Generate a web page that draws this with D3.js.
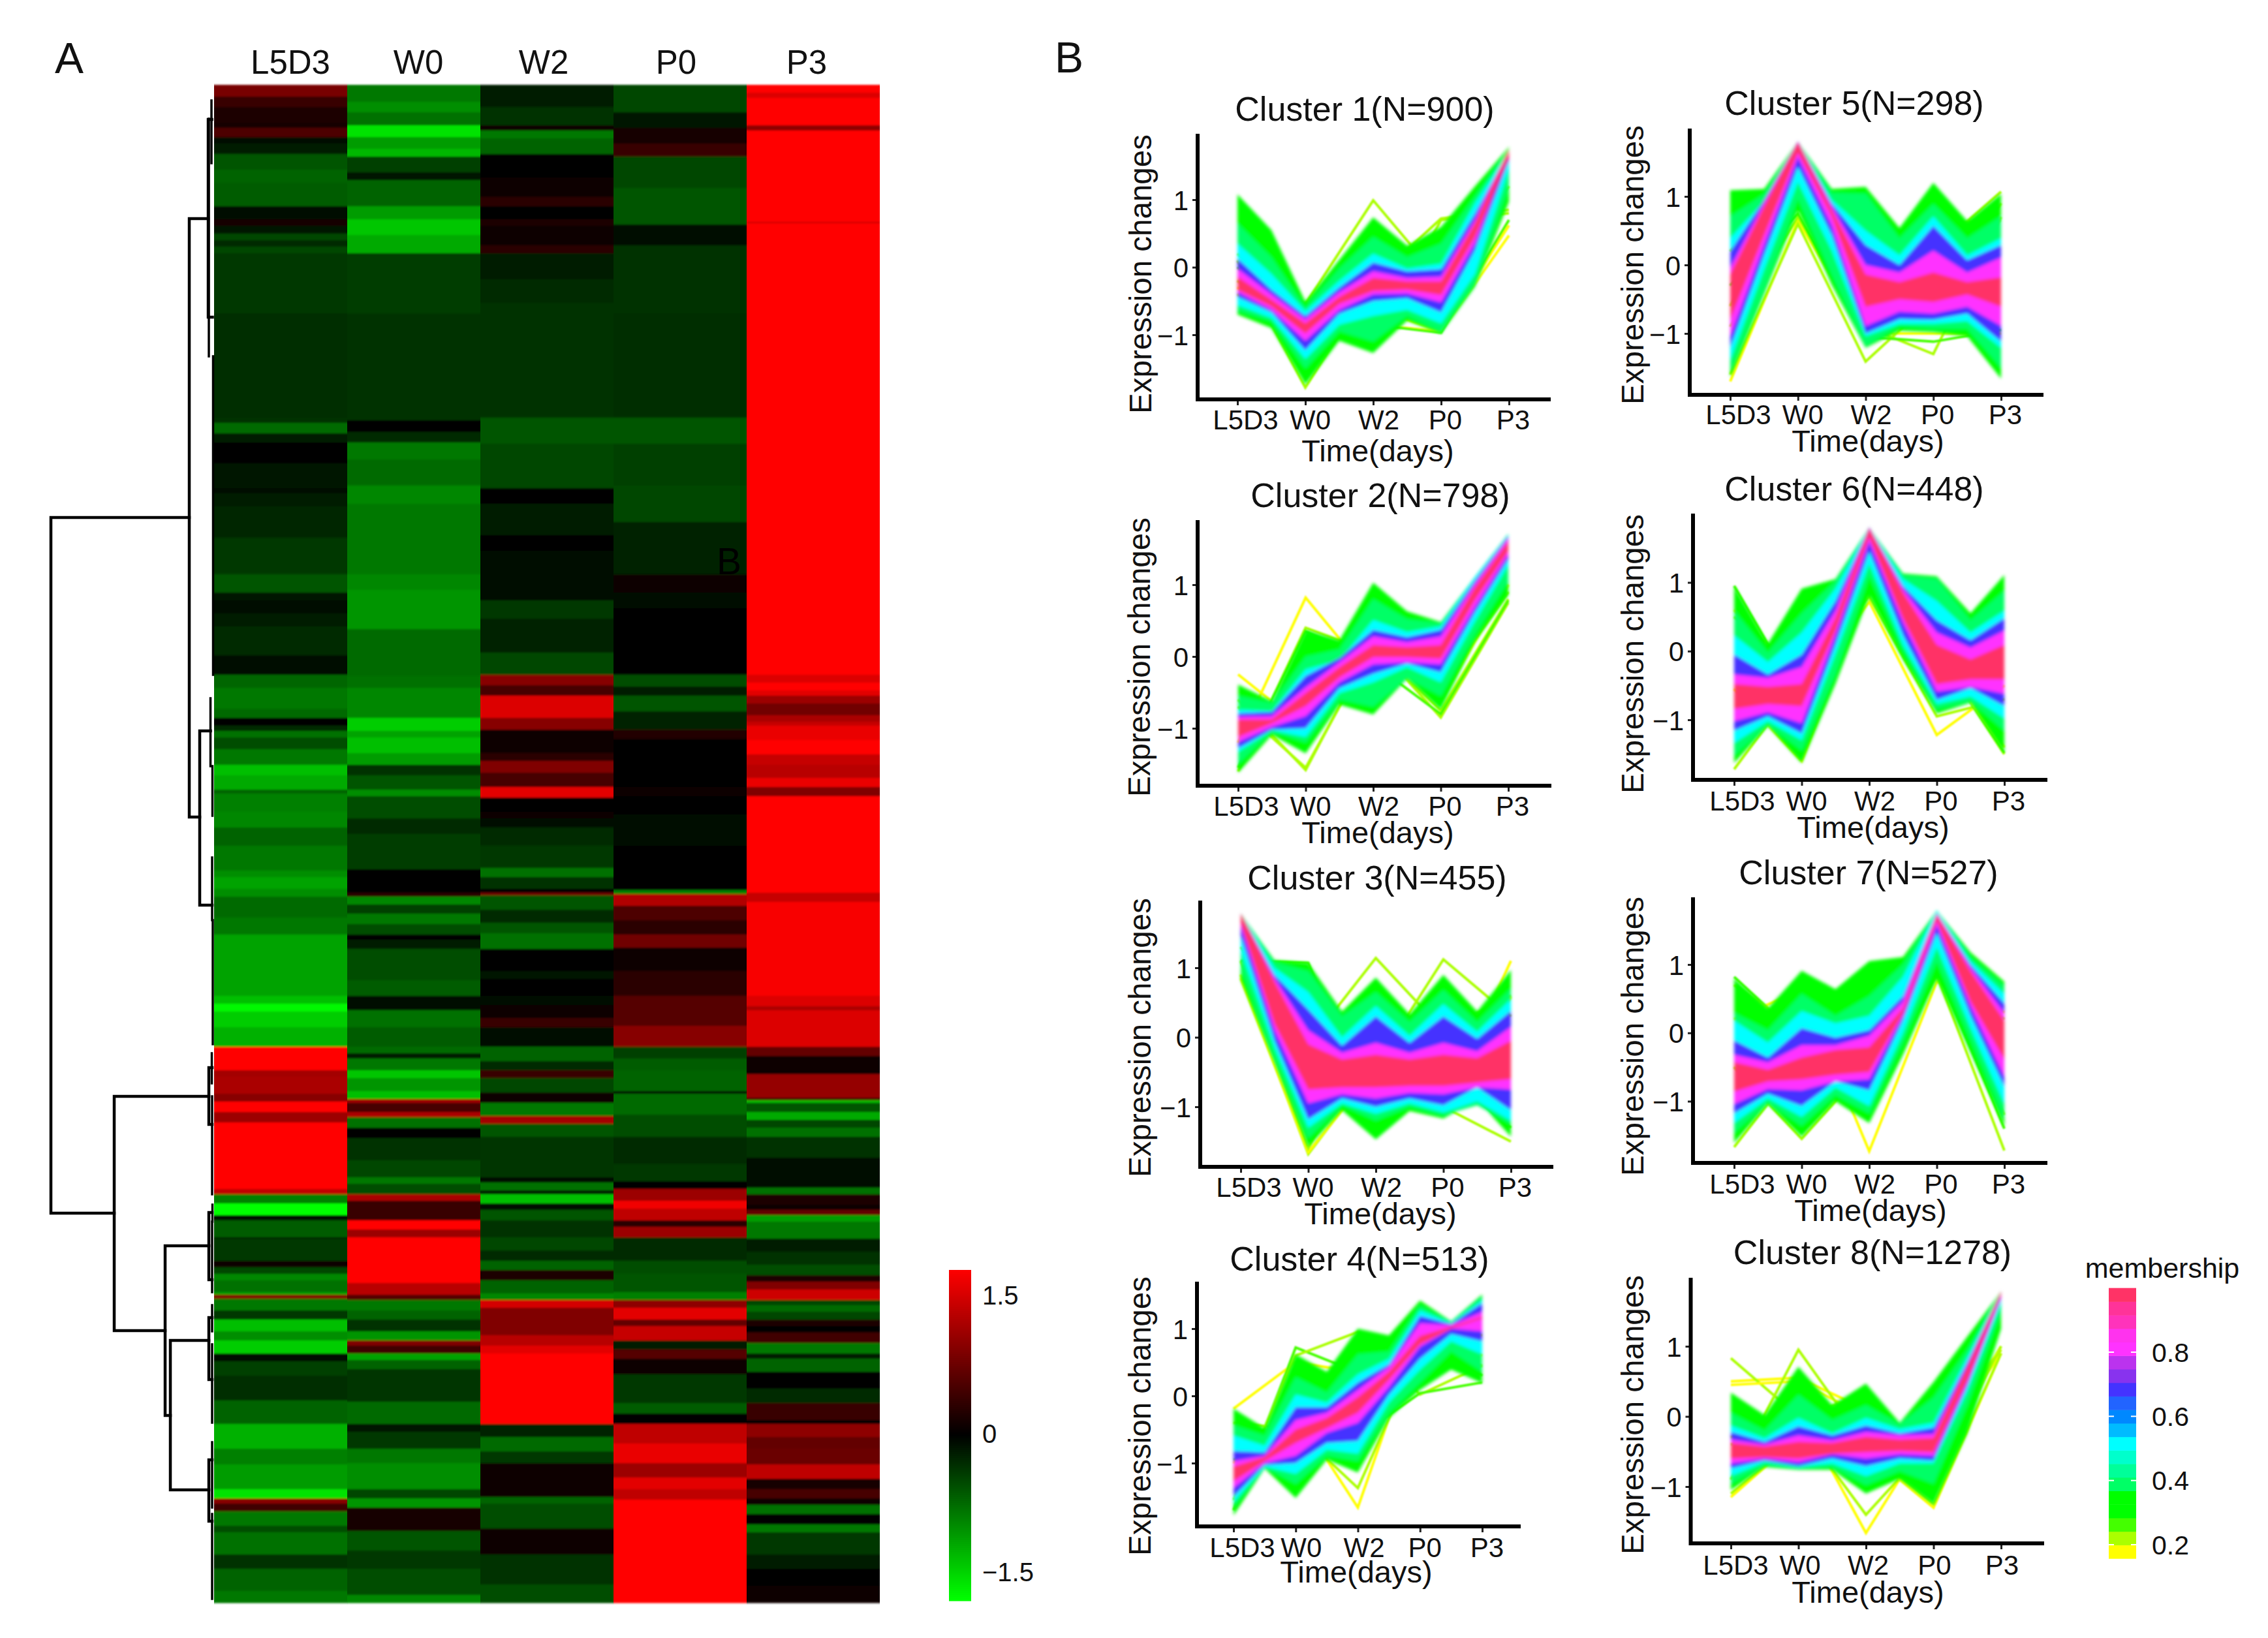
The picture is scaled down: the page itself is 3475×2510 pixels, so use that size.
<!DOCTYPE html>
<html>
<head>
<meta charset="utf-8">
<title>Heatmap and clusters</title>
<script src="https://cdn.jsdelivr.net/npm/d3@7"></script>
<style>
  html, body { margin: 0; padding: 0; background: #fff; }
  svg { display: block; }
  text { font-family: "Liberation Sans", Arial, sans-serif; fill: #111; }
</style>
</head>
<body>
<svg id="chart" width="3475" height="2510"></svg>
<script>
// heatmap: each column is a list of [last row of the stripe, value]
const heatColumns = ['L5D3', 'W0', 'W2', 'P0', 'P3'];
const rowCount = 1163;

const heatL5D3 = [[9,.85],[17,.4],[29,.2],[33,.15],[40,.55],[45,-.05],[53,-.2],[65,-.6],[75,-.7],[93,-.65],[103,-.1],[108,.15],[114,-.15],[119,-.5],[124,-.3],[129,-.5],[175,-.4],[255,-.32],[259,-.35],[267,-.75],[274,-.2],[290,-.03],[309,-.15],[313,-.05],[323,-.2],[347,-.28],[375,-.4],[389,-.6],[395,-.15],[405,-.05],[415,-.2],[437,-.3],[452,-.12],[462,-.72],[478,-.85],[485,-.75],[491,-.02],[495,-.3],[500,-.8],[509,-.55],[521,-.85],[529,-1.35],[540,-1.2],[543,-.7],[557,-.9],[569,-.95],[583,-.7],[602,-.85],[607,-1],[616,-1.15],[622,-1],[638,-.75],[651,-.85],[674,-1.15],[698,-1.15],[704,-1.35],[710,-1.75],[722,-1.45],[737,-1.25],[755,1.8],[760,1.15],[773,1.2],[779,.95],[787,1.8],[795,1.1],[846,1.8],[850,1.35],[857,-.9],[866,-1.8],[870,-.05],[883,-.65],[884,-.1],[901,-.4],[906,.05],[911,-.5],[916,-.95],[925,-.8],[927,-1.1],[930,.9],[939,-.85],[946,-.4],[955,-1.35],[962,-1],[972,-1.45],[978,-.05],[989,-.45],[1008,-.32],[1026,-.7],[1045,-1.25],[1057,-.9],[1076,-1.1],[1083,-1.6],[1087,.95],[1093,.45],[1104,-.85],[1109,-.55],[1126,-.8],[1137,-.35],[1154,-.7],[1163,-.85]];

const heatW0 = [[13,-.85],[21,-1],[31,-.8],[40,-1.6],[49,-1.1],[55,-1.3],[67,-.45],[73,-.15],[93,-.7],[103,-1.1],[115,-1.4],[129,-1.2],[175,-.42],[257,-.35],[266,.02],[274,-.3],[287,-.85],[307,-.75],[321,-.95],[375,-.85],[387,-.95],[417,-1.05],[453,-.75],[462,-.8],[485,-.95],[495,-1.45],[500,-1.15],[512,-1.35],[521,-1.1],[529,-.35],[540,-.6],[545,-1],[562,-.55],[574,-.3],[601,-.42],[619,.03],[622,.3],[628,-.95],[635,-.45],[643,-.85],[651,-.55],[655,0],[662,-.2],[686,-.55],[698,-.65],[709,-.05],[722,-.8],[737,-.65],[742,-.75],[746,-.2],[755,-.85],[761,-1.4],[771,-1.05],[777,-1.35],[780,1.1],[787,.5],[791,1.2],[799,-.8],[807,-.02],[824,-.35],[837,-.5],[842,-.85],[850,-.55],[855,1.2],[870,.4],[877,1.8],[883,1.1],[918,1.8],[927,1.3],[931,.6],[939,-.85],[946,-.7],[955,-.35],[962,-1.05],[966,.9],[972,.45],[977,-1.15],[984,-.7],[1009,-.38],[1026,-.75],[1032,-.15],[1045,-.4],[1056,-.85],[1076,-1],[1083,-.5],[1090,-1.05],[1108,.15],[1123,-.6],[1137,-.4],[1157,-.55],[1163,-.95]];

const heatW2 = [[17,-.2],[31,-.35],[35,.1],[41,-.85],[53,-.7],[71,-.03],[86,.1],[93,.3],[103,.02],[108,.2],[123,.05],[129,.3],[149,-.2],[167,-.3],[255,-.35],[275,-.6],[309,-.5],[321,-.02],[345,-.2],[357,0],[375,-.1],[395,-.05],[409,-.4],[435,-.25],[452,-.5],[460,.95],[468,.5],[485,1.55],[494,.95],[504,.1],[512,.1],[518,.3],[527,.9],[538,.5],[546,1.6],[557,0],[562,.05],[569,-.1],[583,-.3],[600,-.4],[607,-.8],[616,-.35],[619,-.02],[621,.8],[632,-.6],[642,-.3],[650,-.6],[662,-.8],[679,.03],[685,-.15],[698,-.03],[705,-.1],[715,.1],[722,.4],[737,-.08],[748,-.7],[755,-.3],[761,.4],[772,-.5],[780,.1],[790,-.85],[796,1.15],[806,-.6],[837,-.38],[841,-.1],[847,-.8],[850,-.2],[857,-1.35],[862,-.1],[870,-.6],[883,-.35],[893,-.5],[901,-.3],[908,-.7],[916,.2],[926,-.7],[931,-.95],[937,1.5],[946,.9],[958,.9],[966,1.3],[972,1.6],[1026,1.8],[1036,-.25],[1047,-.75],[1056,-.4],[1082,.08],[1087,-.7],[1106,-.55],[1126,.05],[1149,-.35],[1163,-.55]];

const heatP0 = [[21,-.5],[33,-.15],[45,.15],[55,.4],[79,-.5],[107,-.6],[123,-.1],[175,-.35],[255,-.32],[275,-.6],[307,-.45],[335,-.5],[375,-.25],[389,.1],[401,-.12],[452,-.04],[461,-.55],[468,-.2],[480,-.6],[494,-.25],[501,.25],[516,0],[529,.03],[538,.02],[545,.1],[559,0],[583,-.12],[602,.02],[617,-.02],[620,-.9],[629,1.25],[640,.55],[651,.3],[661,.8],[679,.1],[698,.3],[721,.6],[737,.95],[746,-.45],[755,-.65],[771,-.7],[773,-.02],[789,-.75],[806,-.55],[827,-.3],[840,-.4],[846,.02],[855,1.1],[861,1.7],[870,1.35],[875,.3],[883,1.1],[901,-.3],[911,-.55],[918,-.6],[925,-.6],[931,-.9],[937,1],[946,1.6],[951,.7],[962,1.4],[969,-.2],[976,.6],[988,.1],[1010,-.4],[1018,-.65],[1026,-.03],[1041,1.35],[1056,1.65],[1067,1.1],[1076,1.6],[1084,1.35],[1163,1.8]];

const heatP3 = [[6,1.8],[10,1.55],[31,1.8],[35,1],[105,1.8],[106,1.4],[452,1.8],[458,1.55],[464,1.8],[468,1.6],[474,1.1],[483,.8],[488,1.2],[491,1.4],[502,1.65],[513,1.8],[521,1.4],[531,1.3],[538,1.65],[545,.9],[619,1.8],[626,1.4],[698,1.75],[706,1.55],[709,1.2],[737,1.55],[744,.7],[758,.05],[776,1.05],[778,.5],[780,-1.3],[787,-.6],[793,-1.2],[799,-.5],[806,-.8],[822,-.35],[835,-.05],[845,-.1],[850,-.8],[858,.2],[862,.05],[866,.7],[871,-1.1],[884,-.85],[894,-.2],[904,-.35],[912,-.55],[917,.2],[923,.9],[931,1.45],[935,-.5],[940,-.75],[946,-.5],[951,.2],[956,-.02],[964,.45],[972,-.85],[976,-.2],[986,-.7],[999,-.03],[1010,-.3],[1023,.4],[1026,.02],[1036,1],[1045,.7],[1057,.75],[1068,1.35],[1076,.15],[1083,.5],[1088,.1],[1095,-.8],[1103,-.02],[1109,-.85],[1126,-.4],[1137,-.2],[1150,0],[1163,.12]];

const heatData = [heatL5D3, heatW0, heatW2, heatP0, heatP3];

// dendrogram: [height, top row, height of top child, bottom row, height of bottom child]
const dendroMerges = [
  [1, 331.5, .152, 864.5, .612],
  [.152, 102.5, .036, 561, .088],
  [.036, 26.5, .014, 178, .01],
  [.088, 495, .022, 628.5, .012],
  [.612, 775, .032, 954.5, .3],
  [.032, 753, .012, 796.5, .012],
  [.3, 889.5, .032, 1019.5, .268],
  [.032, 864, .012, 915.5, .012],
  [.268, 962, .032, 1076.5, .032],
  [.032, 944.5, .012, 992, .012],
  [.032, 1053.5, .012, 1100.5, .012]
];
// small leaf groups next to the heatmap: [height, top row, bottom row]
const dendroLeaves = [
  [.032, 26, 208], [.016, 12, 60], [.006, 208, 452], [.022, 470, 522], [.01, 522, 560],
  [.012, 592, 640], [.008, 640, 735], [.014, 742, 765], [.012, 775, 850], [.01, 858, 871],
  [.012, 871, 925], [.012, 935, 955], [.012, 965, 1025], [.012, 1040, 1090], [.012, 1095, 1160]
];

const heatTicks = [-1.5, 0, 1.5];

// clusters
const timeLabels = ['L5D3', 'W0', 'W2', 'P0', 'P3'];
// envelopes are read at each time point and half way to the next one
const envelopeSteps = [0, .5, 1, 1.5, 2, 2.5, 3, 3.5, 4];
const clusterNumbers = [1, 2, 3, 4, 5, 6, 7, 8];
const clusterSizes = [900, 798, 455, 513, 298, 448, 527, 1278];

// [membership, upper edge, lower edge]
const cluster1Bands = [
  [.3, [1.08,.55,-.51,.11,.74,.32,.6,1.2,1.78], [-.7,-.9,-1.74,-1.09,-1.27,-.79,-.98,-.29,.97]],
  [.38, [.65,.15,-.6,-.02,.45,.15,.35,1.05,1.75], [-.64,-.8,-1.5,-.95,-1.1,-.72,-.95,-.25,1.2]],
  [.5, [.35,-.1,-.65,-.2,.2,-.02,.05,.95,1.72], [-.56,-.75,-1.36,-.85,-.72,-.63,-.83,-.1,1.45]],
  [.68, [.13,-.33,-.72,-.3,.07,-.06,-.03,.8,1.72], [-.44,-.67,-1.23,-.69,-.5,-.46,-.67,.25,1.58]],
  [.82, [-.02,-.4,-.77,-.37,-.06,-.16,-.14,.7,1.75], [-.37,-.63,-1.09,-.63,-.4,-.39,-.52,.36,1.68]],
  [.96, [-.14,-.48,-.83,-.44,-.16,-.21,-.21,.65,1.74], [-.33,-.58,-.98,-.54,-.35,-.33,-.41,.45,1.62]]
];
const cluster2Bands = [
  [.3, [-.39,-.62,.37,.23,1.03,.63,.48,1.1,1.71], [-1.62,-1.09,-1.35,-.67,-.81,-.31,-.74,.2,.86]],
  [.38, [-.55,-.65,0,.1,.8,.52,.46,1.1,1.7], [-1.5,-1.04,-1.2,-.6,-.7,-.3,-.55,.3,1.05]],
  [.5, [-.74,-.76,-.18,-.05,.51,.34,.42,1.1,1.7], [-1.33,-1.03,-1.12,-.51,-.36,-.15,-.36,.48,1.27]],
  [.68, [-.79,-.77,-.27,-.02,.37,.27,.37,1.05,1.68], [-1.28,-1.02,-1,-.44,-.24,-.1,-.22,.6,1.35]],
  [.82, [-.84,-.83,-.43,-.08,.28,.2,.28,1,1.65], [-1.19,-.98,-.83,-.36,-.11,-.08,-.11,.68,1.42]],
  [.96, [-.88,-.88,-.51,-.15,.16,.13,.16,.95,1.6], [-1.12,-.93,-.69,-.29,-.01,-.01,-.03,.78,1.47]]
];
const cluster3Bands = [
  [.3, [1.78,1.11,1.07,.37,.86,.33,.9,.37,.97], [.83,-.37,-1.58,-1.05,-1.47,-1.06,-1.17,-.9,-1.43]],
  [.38, [1.78,1.08,.95,.3,.65,.22,.68,.22,.7], [1,-.3,-1.45,-.98,-1.2,-1,-1.12,-.98,-1.25]],
  [.5, [1.78,1,.65,0,.45,.02,.48,.08,.55], [1.25,-.15,-1.3,-.95,-1.1,-.95,-1.08,-.92,-1.2]],
  [.68, [1.78,.9,.4,-.12,.3,-.08,.3,-.02,.38], [1.45,-.05,-1.18,-.88,-1,-.88,-.98,-.72,-1.05]],
  [.82, [1.78,.85,.1,-.22,-.08,-.22,-.08,-.2,.15], [1.6,.1,-.95,-.82,-.88,-.8,-.82,-.72,-.75]],
  [.96, [1.78,.8,-.1,-.32,-.25,-.32,-.25,-.3,-.05], [1.65,.2,-.75,-.72,-.72,-.7,-.7,-.65,-.6]]
];
const cluster4Bands = [
  [.3, [-.19,-.48,.62,.36,1,.9,1.42,1.11,1.51], [-1.78,-1.08,-1.52,-.95,-1.14,-.33,.09,.39,.19]],
  [.38, [-.44,-.59,.28,.05,.62,.66,1.34,1.1,1.48], [-1.65,-1.06,-1.31,-.89,-.97,-.25,.2,.66,.36]],
  [.5, [-.59,-.74,.02,-.1,.32,.55,1.27,1.08,1.42], [-1.58,-1.05,-1.16,-.8,-.86,-.1,.39,.81,.62]],
  [.68, [-.82,-.84,-.17,-.17,.2,.47,1.19,1.07,1.38], [-1.5,-1.03,-1,-.7,-.67,.02,.55,.92,.81]],
  [.82, [-.97,-.89,-.36,-.25,.09,.43,1.08,1.05,1.25], [-1.37,-1,-.89,-.55,-.4,.13,.73,1,.96]],
  [.96, [-1.05,-.91,-.5,-.33,-.02,.36,.89,1.03,1.18], [-1.27,-.97,-.7,-.48,-.25,.24,.77,1,1.15]]
];
const cluster5Bands = [
  [.3, [1.09,1.11,1.8,1.11,1.14,.54,1.2,.64,1.04], [-1.64,-.43,.79,-.29,-1.21,-.96,-.98,-1.04,-1.66]],
  [.38, [.71,1.03,1.8,1.05,1.04,.39,.89,.39,.71], [-1.54,-.36,.96,-.14,-1.18,-.89,-.93,-.93,-1.5]],
  [.5, [.39,.93,1.8,.95,.5,.14,.71,.14,.39], [-1.39,-.07,1.21,.21,-1.04,-.86,-.86,-.82,-1.21]],
  [.68, [.2,.95,1.8,.9,.29,0,.57,.07,.29], [-1.21,.14,1.43,.43,-1,-.79,-.8,-.71,-1.12]],
  [.82, [-.04,.9,1.8,.85,0,-.11,.21,-.11,.11], [-1.04,.29,1.57,.57,-.89,-.68,-.71,-.61,-.89]],
  [.96, [-.14,.85,1.78,.8,-.14,-.25,-.11,-.25,-.18], [-.8,.43,1.64,.71,-.61,-.5,-.54,-.43,-.61]]
];
const cluster6Bands = [
  [.3, [.95,.11,.91,1.05,1.8,1.13,1.09,.55,1.11], [-1.63,-1.09,-1.63,-.48,.8,-.12,-.91,-.75,-1.48]],
  [.38, [.59,-.02,.55,1.02,1.8,1.1,1.05,.45,.88], [-1.52,-1.07,-1.45,-.34,1.09,.02,-.84,-.73,-1.16]],
  [.5, [.23,-.16,.27,.91,1.8,1.05,.73,.27,.59], [-1.34,-1.02,-1.3,-.05,1.27,.09,-.77,-.66,-.98]],
  [.68, [-.05,-.34,-.05,.73,1.8,.95,.45,.16,.48], [-1.16,-.95,-1.2,.09,1.45,.23,-.71,-.54,-.8]],
  [.82, [-.34,-.39,-.23,.59,1.8,.9,.27,.05,.3], [-1.02,-.89,-1.05,.23,1.59,.41,-.59,-.52,-.62]],
  [.96, [-.48,-.52,-.48,.48,1.78,.85,.09,-.12,.09], [-.84,-.77,-.8,.3,1.66,.48,-.48,-.41,-.41]]
];
const cluster7Bands = [
  [.3, [.8,.36,.91,.64,1.05,1.11,1.79,1.18,.75], [-1.61,-1.04,-1.52,-1,-1.32,-.32,.79,-.29,-1.38]],
  [.38, [.29,.04,.57,.25,.54,1,1.79,1.1,.68], [-1.46,-1.02,-1.36,-.91,-1.18,-.14,1.04,-.11,-1.25]],
  [.5, [.18,-.14,.32,.14,.25,.82,1.79,1.05,.57], [-1.32,-.96,-1.23,-.8,-1.07,0,1.25,.07,-1.04]],
  [.68, [-.11,-.36,.07,-.07,.04,.54,1.75,1,.43], [-1.18,-.89,-1.07,-.71,-.84,.18,1.46,.25,-.79]],
  [.82, [-.32,-.43,-.18,-.18,-.04,.46,1.75,.95,.29], [-1.04,-.82,-.84,-.71,-.68,.25,1.57,.39,-.64]],
  [.96, [-.43,-.54,-.36,-.25,-.21,.36,1.72,.9,.18], [-.86,-.71,-.68,-.61,-.57,.29,1.64,.46,-.39]]
];
const cluster8Bands = [
  [.3, [.34,.02,.71,.16,.47,-.09,.49,1.14,1.78], [-1.05,-.72,-.76,-.76,-1.1,-.89,-1.25,-.24,1.25]],
  [.38, [.05,-.2,.31,-.05,.16,-.11,.27,.95,1.78], [-.96,-.69,-.74,-.72,-.98,-.78,-.96,.16,1.5]],
  [.5, [-.13,-.31,-.02,-.24,-.02,-.18,-.09,.85,1.78], [-.85,-.65,-.72,-.67,-.85,-.67,-.67,.35,1.61]],
  [.68, [-.22,-.36,-.14,-.27,-.13,-.24,-.16,.78,1.78], [-.74,-.63,-.71,-.6,-.71,-.6,-.63,.42,1.67]],
  [.82, [-.33,-.4,-.27,-.34,-.22,-.27,-.25,.72,1.78], [-.67,-.6,-.65,-.54,-.6,-.54,-.56,.48,1.7]],
  [.96, [-.38,-.43,-.36,-.38,-.29,-.33,-.31,.7,1.78], [-.6,-.58,-.6,-.53,-.51,-.49,-.51,.52,1.74]]
];

// single low membership lines outside the bands: [membership, five values]
const cluster1Lines = [[.21,[.2,-.55,.99,-.2,1.2]],[.17,[-.3,-1,-.6,-.95,.47]],[.17,[-.4,-1.1,-.85,-.95,.62]],[.21,[.1,-1.78,-.2,.72,.85]],[.21,[-.2,-.9,-1.15,.7,.8]],[.25,[0,-.9,-.85,-.97,.7]]];
const cluster2Lines = [[.17,[-1.2,.82,-.32,-.2,1]],[.17,[-.25,-1,.1,-.6,1]],[.21,[-.6,-1.58,.2,-.85,.75]],[.21,[-.7,-1.55,.15,-.75,.8]],[.21,[-1.6,.4,.05,-.45,.9]],[.25,[-1.55,.35,-.1,-.8,.78]]];
const cluster3Lines = [[.21,[1.3,-.1,1.14,.1,.6]],[.21,[.9,-1.68,-.4,1.12,.3]],[.17,[.85,-1.65,-.45,-1,1.1]],[.21,[1.1,-1.6,.4,-1,-1.5]],[.17,[.9,-1.05,-1,-1.02,.58]],[.25,[1.1,1.07,-1.35,-.5,-1.3]]];
const cluster4Lines = [[.17,[-.19,.5,.35,1,.9]],[.17,[-1,-.24,-1.66,1,.6]],[.25,[-1.7,.72,.35,1,.3]],[.21,[-1.55,.6,.95,.02,.45]],[.21,[-.4,-.5,-1.37,.7,.45]],[.25,[-.95,-.8,-.6,.04,.2]]];
const cluster5Lines = [[.17,[-1.7,.65,-1,-1,-1]],[.21,[-1.6,.6,-1.41,-.5,.9]],[.21,[-.9,.7,-.9,-1.3,.7]],[.27,[-.3,.75,-1.05,-1.12,-.95]],[.21,[.2,1.3,.3,.2,1.07]],[.21,[-.6,1.2,-.8,.6,.65]]];
const cluster6Lines = [[.17,[.6,-.6,.72,-1.22,-.5]],[.21,[-1.72,-.4,.8,-.95,-.7]],[.21,[.5,-.3,.9,0,-1.5]],[.25,[.95,-.75,1,0,-1.48]],[.17,[-.55,-1.6,.95,-.05,-1.4]]];
const cluster7Lines = [[.17,[.2,.63,-1.73,.75,.3]],[.21,[-1.67,-.4,-.95,.85,-1.72]],[.25,[.82,-.1,.6,1,-1.4]],[.21,[-.5,-1.55,-.45,.95,-1.2]],[.21,[.7,0,.65,1,.2]]];
const cluster8Lines = [[.17,[.5,.55,.1,-.5,.9]],[.21,[.83,0,.3,-.6,1]],[.17,[.45,.5,0,-.4,.95]],[.21,[-.9,.95,-.4,-.9,1]],[.17,[-.3,.1,-1.66,-.12,.95]],[.21,[-.4,-.1,-1.4,-.35,.95]],[.17,[-1.15,-.3,-.5,-1.3,.9]],[.21,[-1.1,-.3,-.45,-1.25,.9]]];

const clusterBands = [cluster1Bands, cluster2Bands, cluster3Bands, cluster4Bands, cluster5Bands, cluster6Bands, cluster7Bands, cluster8Bands];
const clusterLines = [cluster1Lines, cluster2Lines, cluster3Lines, cluster4Lines, cluster5Lines, cluster6Lines, cluster7Lines, cluster8Lines];

// membership legend
const membershipTicks = [.2, .4, .6, .8];
const membershipColors = ['#ffff00','#aaff00','#44ff00','#00ff00','#00ff00','#00ff66','#00ff99','#00ffcc','#00ffff','#00bbff','#0088ff','#2264ff','#4433ff','#8833ee','#bb33ee','#ff33ff','#ff33ee','#ff33bb','#ff3399','#ff3366'];

// panel geometry
const panels = [
  {axisX:1835, baseY:612, topY:205, rightX:2376, t0:1896, t4:2312, y1:306, ym1:513, titleX:2091, titleY:185, tickY:658, timeX:2111, timeY:707, labX:1764, labY:420, shift:0},
  {axisX:1835, baseY:1204, topY:797, rightX:2377, t0:1897, t4:2311, y1:896, ym1:1116, titleX:2115, titleY:777, tickY:1250, timeX:2111, timeY:1292, labX:1762, labY:1007, shift:0},
  {axisX:1839, baseY:1788, topY:1380, rightX:2380, t0:1901, t4:2315, y1:1483, ym1:1696, titleX:2110, titleY:1363, tickY:1834, timeX:2115, timeY:1876, labX:1763, labY:1590, shift:0},
  {axisX:1834, baseY:2339, topY:1964, rightX:2330, t0:1890, t4:2271, y1:2036, ym1:2242, titleX:2083, titleY:1947, tickY:2386, timeX:2078, timeY:2425, labX:1763, labY:2170, shift:1},
  {axisX:2589, baseY:605, topY:197, rightX:3131, t0:2651, t4:3066, y1:301, ym1:511, titleX:2841, titleY:176, tickY:650, timeX:2862, timeY:692, labX:2518, labY:406, shift:0},
  {axisX:2594, baseY:1195, topY:787, rightX:3137, t0:2657, t4:3071, y1:892.5, ym1:1103, titleX:2841, titleY:767, tickY:1242, timeX:2870, timeY:1284, labX:2518, labY:1002, shift:0},
  {axisX:2594, baseY:1782, topY:1375, rightX:3137, t0:2657, t4:3071, y1:1478, ym1:1687.5, titleX:2863, titleY:1355, tickY:1829, timeX:2866, timeY:1871, labX:2518, labY:1588, shift:0},
  {axisX:2590.5, baseY:2365, topY:1958, rightX:3132, t0:2652, t4:3066, y1:2063, ym1:2278, titleX:2869, titleY:1937, tickY:2413, timeX:2862, timeY:2456, labX:2518, labY:2168, shift:-5}
];
const tickLabelOffsets = [12, 7, 8, 6, 6];

const svg = d3.select('#chart');
const defs = svg.append('defs');
defs.append('filter').attr('id', 'soft').attr('x', '-10%').attr('y', '-10%').attr('width', '120%').attr('height', '120%')
  .append('feGaussianBlur').attr('stdDeviation', 2.5);
defs.append('filter').attr('id', 'softLine').attr('x', '-10%').attr('y', '-10%').attr('width', '120%').attr('height', '120%')
  .append('feGaussianBlur').attr('stdDeviation', 1);
defs.append('filter').attr('id', 'stripes').attr('x', '0').attr('y', '-1%').attr('width', '100%').attr('height', '102%')
  .append('feGaussianBlur').attr('stdDeviation', '0 1.5');

// panel letters
svg.append('text').attr('x', 106).attr('y', 112).attr('text-anchor', 'middle').attr('font-size', 66).text('A');
svg.append('text').attr('x', 1638).attr('y', 111).attr('text-anchor', 'middle').attr('font-size', 66).text('B');

// heatmap
const heatX = d3.scaleBand().domain(heatColumns).range([328, 1348]);
const heatY = d3.scaleLinear().domain([0, rowCount]).range([130, 2456]);
const heatColor = d3.scaleLinear().domain([-1.8, 0, 1.8]).range(['#00ff00', '#000000', '#ff0000']).clamp(true);

const heat = svg.append('g').attr('filter', 'url(#stripes)');
heatColumns.forEach((name, c) => {
  let start = 0;
  heatData[c].forEach(([end, value]) => {
    heat.append('rect')
      .attr('x', heatX(name))
      .attr('y', heatY(start))
      .attr('width', heatX.bandwidth() + (c < 4 ? .5 : 0))
      .attr('height', heatY(end) - heatY(start) + .5)
      .attr('fill', heatColor(value));
    start = end;
  });
});

const columnLabelX = [445, 641, 833, 1036, 1236];
heatColumns.forEach((name, c) => {
  svg.append('text').attr('x', columnLabelX[c]).attr('y', 113).attr('text-anchor', 'middle')
    .attr('font-size', 51).text(name);
});

// the stray letter over the heatmap
svg.append('text').attr('x', 1117).attr('y', 880).attr('text-anchor', 'middle').attr('font-size', 57)
  .style('fill', '#000').text('B');

// dendrogram
const dendroX = d3.scaleLinear().domain([0, 1]).range([328, 78]);
const dendro = svg.append('g').attr('fill', 'none').attr('stroke', '#000').attr('stroke-width', 4.5)
  .attr('stroke-linecap', 'square');
dendroMerges.forEach(([h, r0, h0, r1, h1]) => {
  const p = d3.path();
  p.moveTo(dendroX(h0), heatY(r0));
  p.lineTo(dendroX(h), heatY(r0));
  p.lineTo(dendroX(h), heatY(r1));
  p.lineTo(dendroX(h1), heatY(r1));
  dendro.append('path').attr('d', p.toString());
});
dendroLeaves.forEach(([h, r0, r1]) => {
  dendro.append('line')
    .attr('x1', dendroX(h)).attr('x2', dendroX(h))
    .attr('y1', heatY(r0)).attr('y2', heatY(r1))
    .attr('stroke-width', 3.5);
});

// heat colour key
const keyY = d3.scaleLinear().domain([-1.5, 1.5]).range([2409, 1985]);
svg.append('g').selectAll('rect')
  .data(d3.range(1946, 2453, 3))
  .join('rect')
  .attr('x', 1454).attr('width', 34)
  .attr('y', d => d).attr('height', 3.5)
  .attr('fill', d => heatColor(keyY.invert(d)));
svg.append('g').selectAll('text')
  .data(heatTicks)
  .join('text')
  .attr('x', 1505).attr('y', d => keyY(d)).attr('dy', '.36em').attr('font-size', 40)
  .text(d => String(d).replace('-', '\u2212'));

// cluster panels
const memberColor = d3.scaleQuantize().domain([.157, 1]).range(membershipColors);

panels.forEach((p, i) => {
  const x = d3.scaleLinear().domain([0, 4]).range([p.t0, p.t4]);
  const y = d3.scaleLinear().domain([-1, 1]).range([p.ym1, p.y1]);
  const g = svg.append('g');

  const area = d3.area()
    .x((d, k) => x(envelopeSteps[k]))
    .y0(d => y(d[1]))
    .y1(d => y(d[0]));
  const line = d3.line().x((d, k) => x(k)).y(d => y(d));

  const lineGroup = g.append('g').attr('filter', 'url(#softLine)').attr('fill', 'none').attr('stroke-width', 4);
  clusterLines[i].forEach(([m, values]) => {
    lineGroup.append('path').attr('d', line(values)).attr('stroke', memberColor(m));
  });

  const bandGroup = g.append('g').attr('filter', 'url(#soft)');
  clusterBands[i].forEach(([m, hi, lo]) => {
    bandGroup.append('path').attr('d', area(d3.zip(hi, lo))).attr('fill', memberColor(m));
  });

  // axes
  const axisB = d3.axisBottom(x).tickValues([0, 1, 2, 3, 4]).tickSize(9).tickFormat(k => timeLabels[k]);
  const axisL = d3.axisLeft(y).tickValues([-1, 0, 1]).tickSize(8).tickFormat(d => String(d).replace('-', '\u2212'));

  const gx = g.append('g').attr('transform', `translate(0,${p.baseY})`).call(axisB);
  gx.select('.domain').remove();
  gx.selectAll('line').attr('stroke', '#222').attr('stroke-width', 3);
  gx.selectAll('text')
    .attr('font-size', 42).attr('font-family', null)
    .attr('y', null).attr('dy', null)
    .attr('transform', (d, k) => `translate(${tickLabelOffsets[k] + p.shift},${p.tickY - p.baseY})`);

  const gy = g.append('g').attr('transform', `translate(${p.axisX},0)`).call(axisL);
  gy.select('.domain').remove();
  gy.selectAll('line').attr('stroke', '#222').attr('stroke-width', 3);
  gy.selectAll('text').attr('font-size', 42).attr('x', -14).attr('dy', '.36em');

  g.append('path')
    .attr('d', `M${p.axisX},${p.topY}V${p.baseY}H${p.rightX}`)
    .attr('fill', 'none').attr('stroke', '#000').attr('stroke-width', 6);

  g.append('text').attr('x', p.titleX).attr('y', p.titleY).attr('text-anchor', 'middle')
    .attr('font-size', 52).text(`Cluster ${clusterNumbers[i]}(N=${clusterSizes[i]})`);
  g.append('text').attr('x', p.timeX).attr('y', p.timeY).attr('text-anchor', 'middle')
    .attr('font-size', 47).text('Time(days)');
  g.append('text').attr('transform', `translate(${p.labX},${p.labY}) rotate(-90)`).attr('text-anchor', 'middle')
    .attr('font-size', 47.5).text('Expression changes');
});

// membership legend
const legendY = d3.scaleLinear().domain([.2, .8]).range([2367, 2072]);
const legendStep = (1 - .157) / membershipColors.length;
const legend = svg.append('g');
legend.append('text').attr('x', 3313).attr('y', 1958).attr('text-anchor', 'middle').attr('font-size', 43).text('membership');
legend.selectAll('rect')
  .data(membershipColors)
  .join('rect')
  .attr('x', 3231).attr('width', 42)
  .attr('y', (d, k) => legendY(.157 + (k + 1) * legendStep))
  .attr('height', (d, k) => legendY(.157 + k * legendStep) - legendY(.157 + (k + 1) * legendStep) + .5)
  .attr('fill', d => d);
membershipTicks.forEach(t => {
  legend.append('line').attr('x1', 3231).attr('x2', 3239).attr('y1', legendY(t)).attr('y2', legendY(t)).attr('stroke', '#fff').attr('stroke-width', 2);
  legend.append('line').attr('x1', 3265).attr('x2', 3273).attr('y1', legendY(t)).attr('y2', legendY(t)).attr('stroke', '#fff').attr('stroke-width', 2);
  legend.append('text').attr('x', 3297).attr('y', legendY(t)).attr('dy', '.36em').attr('font-size', 41).text(t.toFixed(1));
});
</script>
</body>
</html>
